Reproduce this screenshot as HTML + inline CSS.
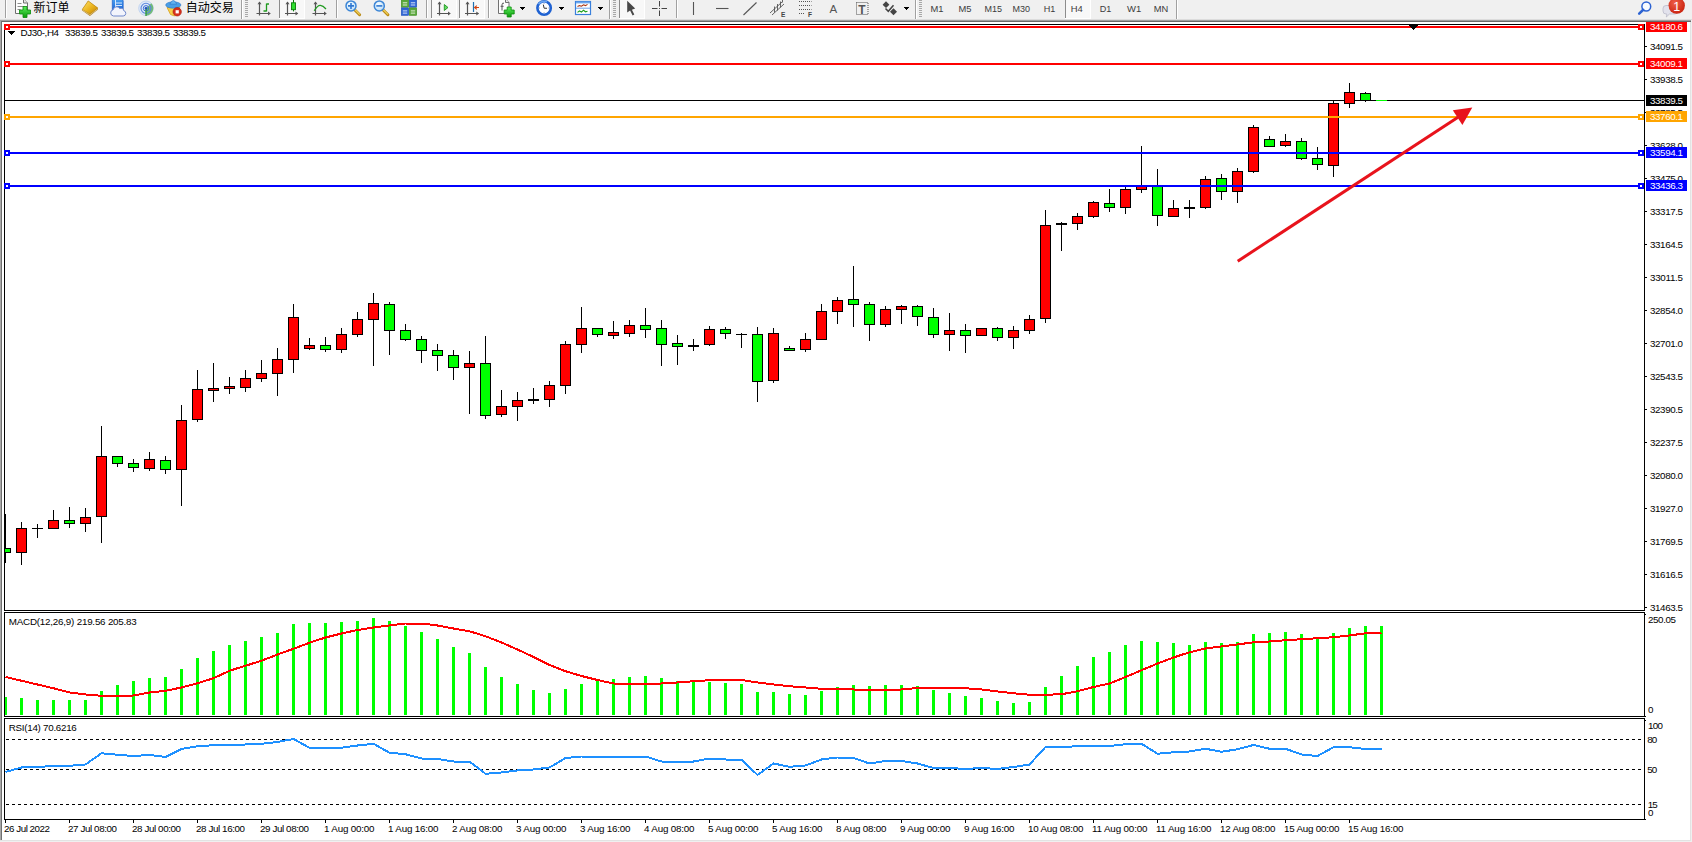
<!DOCTYPE html>
<html><head><meta charset="utf-8"><title>DJ30-,H4</title>
<style>
html,body{margin:0;padding:0;background:#fff;overflow:hidden}
body{width:1692px;height:842px;position:relative}
svg{position:absolute;left:0;top:0;display:block}
text{font-family:"Liberation Sans","Noto Sans CJK SC",sans-serif;font-size:9.8px}
</style></head><body>
<svg width="1692" height="842" viewBox="0 0 1692 842" shape-rendering="crispEdges">
<defs><clipPath id="cm"><rect x="5" y="25" width="1639" height="585"/></clipPath></defs>
<rect x="0" y="0" width="1692" height="842" fill="#fff"/>
<!-- window chrome -->
<rect x="0" y="0" width="1692" height="19" fill="#f0f0f0"/>
<rect x="0" y="19" width="1692" height="1" fill="#dcdcdc"/>
<rect x="0" y="20" width="1691" height="1" fill="#a0a0a0"/>
<rect x="0" y="21" width="1691" height="1" fill="#696969"/>
<rect x="0" y="21" width="1" height="819" fill="#a8a8a8"/>
<rect x="1" y="21" width="1" height="819" fill="#707070"/>
<rect x="1690" y="22" width="1" height="819" fill="#e3e3e3"/>
<rect x="1691" y="20" width="1" height="822" fill="#f0f0f0"/>
<rect x="0" y="840" width="1691" height="1" fill="#e3e3e3"/>
<rect x="0" y="841" width="1692" height="1" fill="#f0f0f0"/>
<rect x="4" y="24" width="1641" height="1" fill="#000"/>
<rect x="4" y="610" width="1641" height="1" fill="#000"/>
<rect x="4" y="24" width="1" height="587" fill="#000"/>
<rect x="1644" y="24" width="1" height="587" fill="#000"/>
<rect x="4" y="612" width="1641" height="1" fill="#000"/>
<rect x="4" y="716" width="1641" height="1" fill="#000"/>
<rect x="4" y="612" width="1" height="105" fill="#000"/>
<rect x="1644" y="612" width="1" height="105" fill="#000"/>
<rect x="4" y="718" width="1641" height="1" fill="#000"/>
<rect x="4" y="819" width="1641" height="1" fill="#000"/>
<rect x="4" y="718" width="1" height="102" fill="#000"/>
<rect x="1644" y="718" width="1" height="102" fill="#000"/>
<g clip-path="url(#cm)">
<rect x="5" y="100" width="1639" height="1" fill="#000"/>
<rect x="5" y="514" width="1" height="49" fill="#000"/>
<rect x="0" y="548" width="11" height="5" fill="#000"/>
<rect x="1" y="549" width="9" height="3" fill="#00ff00"/>
<rect x="21" y="522" width="1" height="43" fill="#000"/>
<rect x="16" y="528" width="11" height="25" fill="#000"/>
<rect x="17" y="529" width="9" height="23" fill="#ff0000"/>
<rect x="37" y="524" width="1" height="14" fill="#000"/>
<rect x="32" y="528" width="11" height="1" fill="#000"/>
<rect x="53" y="510" width="1" height="19" fill="#000"/>
<rect x="48" y="520" width="11" height="9" fill="#000"/>
<rect x="49" y="521" width="9" height="7" fill="#ff0000"/>
<rect x="69" y="507" width="1" height="21" fill="#000"/>
<rect x="64" y="520" width="11" height="4" fill="#000"/>
<rect x="65" y="521" width="9" height="2" fill="#00ff00"/>
<rect x="85" y="508" width="1" height="24" fill="#000"/>
<rect x="80" y="517" width="11" height="7" fill="#000"/>
<rect x="81" y="518" width="9" height="5" fill="#ff0000"/>
<rect x="101" y="426" width="1" height="117" fill="#000"/>
<rect x="96" y="456" width="11" height="61" fill="#000"/>
<rect x="97" y="457" width="9" height="59" fill="#ff0000"/>
<rect x="117" y="456" width="1" height="11" fill="#000"/>
<rect x="112" y="456" width="11" height="8" fill="#000"/>
<rect x="113" y="457" width="9" height="6" fill="#00ff00"/>
<rect x="133" y="459" width="1" height="13" fill="#000"/>
<rect x="128" y="463" width="11" height="5" fill="#000"/>
<rect x="129" y="464" width="9" height="3" fill="#00ff00"/>
<rect x="149" y="452" width="1" height="19" fill="#000"/>
<rect x="144" y="459" width="11" height="10" fill="#000"/>
<rect x="145" y="460" width="9" height="8" fill="#ff0000"/>
<rect x="165" y="456" width="1" height="18" fill="#000"/>
<rect x="160" y="460" width="11" height="10" fill="#000"/>
<rect x="161" y="461" width="9" height="8" fill="#00ff00"/>
<rect x="181" y="405" width="1" height="101" fill="#000"/>
<rect x="176" y="420" width="11" height="50" fill="#000"/>
<rect x="177" y="421" width="9" height="48" fill="#ff0000"/>
<rect x="197" y="370" width="1" height="52" fill="#000"/>
<rect x="192" y="389" width="11" height="31" fill="#000"/>
<rect x="193" y="390" width="9" height="29" fill="#ff0000"/>
<rect x="213" y="363" width="1" height="39" fill="#000"/>
<rect x="208" y="388" width="11" height="3" fill="#000"/>
<rect x="209" y="389" width="9" height="1" fill="#ff0000"/>
<rect x="229" y="377" width="1" height="17" fill="#000"/>
<rect x="224" y="386" width="11" height="3" fill="#000"/>
<rect x="225" y="387" width="9" height="1" fill="#ff0000"/>
<rect x="245" y="370" width="1" height="22" fill="#000"/>
<rect x="240" y="378" width="11" height="10" fill="#000"/>
<rect x="241" y="379" width="9" height="8" fill="#ff0000"/>
<rect x="261" y="360" width="1" height="22" fill="#000"/>
<rect x="256" y="373" width="11" height="6" fill="#000"/>
<rect x="257" y="374" width="9" height="4" fill="#ff0000"/>
<rect x="277" y="348" width="1" height="48" fill="#000"/>
<rect x="272" y="359" width="11" height="15" fill="#000"/>
<rect x="273" y="360" width="9" height="13" fill="#ff0000"/>
<rect x="293" y="304" width="1" height="69" fill="#000"/>
<rect x="288" y="317" width="11" height="43" fill="#000"/>
<rect x="289" y="318" width="9" height="41" fill="#ff0000"/>
<rect x="309" y="338" width="1" height="12" fill="#000"/>
<rect x="304" y="345" width="11" height="4" fill="#000"/>
<rect x="305" y="346" width="9" height="2" fill="#ff0000"/>
<rect x="325" y="337" width="1" height="15" fill="#000"/>
<rect x="320" y="345" width="11" height="5" fill="#000"/>
<rect x="321" y="346" width="9" height="3" fill="#00ff00"/>
<rect x="341" y="328" width="1" height="25" fill="#000"/>
<rect x="336" y="334" width="11" height="16" fill="#000"/>
<rect x="337" y="335" width="9" height="14" fill="#ff0000"/>
<rect x="357" y="312" width="1" height="25" fill="#000"/>
<rect x="352" y="319" width="11" height="16" fill="#000"/>
<rect x="353" y="320" width="9" height="14" fill="#ff0000"/>
<rect x="373" y="293" width="1" height="73" fill="#000"/>
<rect x="368" y="303" width="11" height="17" fill="#000"/>
<rect x="369" y="304" width="9" height="15" fill="#ff0000"/>
<rect x="389" y="302" width="1" height="53" fill="#000"/>
<rect x="384" y="304" width="11" height="27" fill="#000"/>
<rect x="385" y="305" width="9" height="25" fill="#00ff00"/>
<rect x="405" y="324" width="1" height="17" fill="#000"/>
<rect x="400" y="330" width="11" height="10" fill="#000"/>
<rect x="401" y="331" width="9" height="8" fill="#00ff00"/>
<rect x="421" y="336" width="1" height="27" fill="#000"/>
<rect x="416" y="339" width="11" height="12" fill="#000"/>
<rect x="417" y="340" width="9" height="10" fill="#00ff00"/>
<rect x="437" y="344" width="1" height="27" fill="#000"/>
<rect x="432" y="350" width="11" height="6" fill="#000"/>
<rect x="433" y="351" width="9" height="4" fill="#00ff00"/>
<rect x="453" y="350" width="1" height="30" fill="#000"/>
<rect x="448" y="355" width="11" height="13" fill="#000"/>
<rect x="449" y="356" width="9" height="11" fill="#00ff00"/>
<rect x="469" y="351" width="1" height="63" fill="#000"/>
<rect x="464" y="363" width="11" height="5" fill="#000"/>
<rect x="465" y="364" width="9" height="3" fill="#ff0000"/>
<rect x="485" y="336" width="1" height="83" fill="#000"/>
<rect x="480" y="363" width="11" height="53" fill="#000"/>
<rect x="481" y="364" width="9" height="51" fill="#00ff00"/>
<rect x="501" y="390" width="1" height="27" fill="#000"/>
<rect x="496" y="406" width="11" height="9" fill="#000"/>
<rect x="497" y="407" width="9" height="7" fill="#ff0000"/>
<rect x="517" y="392" width="1" height="29" fill="#000"/>
<rect x="512" y="400" width="11" height="7" fill="#000"/>
<rect x="513" y="401" width="9" height="5" fill="#ff0000"/>
<rect x="533" y="388" width="1" height="16" fill="#000"/>
<rect x="528" y="399" width="11" height="2" fill="#000"/>
<rect x="549" y="381" width="1" height="26" fill="#000"/>
<rect x="544" y="385" width="11" height="15" fill="#000"/>
<rect x="545" y="386" width="9" height="13" fill="#ff0000"/>
<rect x="565" y="341" width="1" height="53" fill="#000"/>
<rect x="560" y="344" width="11" height="42" fill="#000"/>
<rect x="561" y="345" width="9" height="40" fill="#ff0000"/>
<rect x="581" y="307" width="1" height="46" fill="#000"/>
<rect x="576" y="328" width="11" height="17" fill="#000"/>
<rect x="577" y="329" width="9" height="15" fill="#ff0000"/>
<rect x="597" y="328" width="1" height="9" fill="#000"/>
<rect x="592" y="328" width="11" height="7" fill="#000"/>
<rect x="593" y="329" width="9" height="5" fill="#00ff00"/>
<rect x="613" y="321" width="1" height="18" fill="#000"/>
<rect x="608" y="332" width="11" height="4" fill="#000"/>
<rect x="609" y="333" width="9" height="2" fill="#ff0000"/>
<rect x="629" y="320" width="1" height="17" fill="#000"/>
<rect x="624" y="325" width="11" height="9" fill="#000"/>
<rect x="625" y="326" width="9" height="7" fill="#ff0000"/>
<rect x="645" y="308" width="1" height="30" fill="#000"/>
<rect x="640" y="325" width="11" height="5" fill="#000"/>
<rect x="641" y="326" width="9" height="3" fill="#00ff00"/>
<rect x="661" y="320" width="1" height="46" fill="#000"/>
<rect x="656" y="328" width="11" height="17" fill="#000"/>
<rect x="657" y="329" width="9" height="15" fill="#00ff00"/>
<rect x="677" y="335" width="1" height="30" fill="#000"/>
<rect x="672" y="343" width="11" height="4" fill="#000"/>
<rect x="673" y="344" width="9" height="2" fill="#00ff00"/>
<rect x="693" y="339" width="1" height="12" fill="#000"/>
<rect x="688" y="345" width="11" height="2" fill="#000"/>
<rect x="709" y="326" width="1" height="20" fill="#000"/>
<rect x="704" y="329" width="11" height="16" fill="#000"/>
<rect x="705" y="330" width="9" height="14" fill="#ff0000"/>
<rect x="725" y="327" width="1" height="12" fill="#000"/>
<rect x="720" y="329" width="11" height="5" fill="#000"/>
<rect x="721" y="330" width="9" height="3" fill="#00ff00"/>
<rect x="741" y="333" width="1" height="15" fill="#000"/>
<rect x="736" y="334" width="11" height="1" fill="#000"/>
<rect x="757" y="327" width="1" height="75" fill="#000"/>
<rect x="752" y="334" width="11" height="48" fill="#000"/>
<rect x="753" y="335" width="9" height="46" fill="#00ff00"/>
<rect x="773" y="328" width="1" height="55" fill="#000"/>
<rect x="768" y="333" width="11" height="48" fill="#000"/>
<rect x="769" y="334" width="9" height="46" fill="#ff0000"/>
<rect x="789" y="346" width="1" height="5" fill="#000"/>
<rect x="784" y="348" width="11" height="3" fill="#000"/>
<rect x="785" y="349" width="9" height="1" fill="#00ff00"/>
<rect x="805" y="333" width="1" height="19" fill="#000"/>
<rect x="800" y="339" width="11" height="11" fill="#000"/>
<rect x="801" y="340" width="9" height="9" fill="#ff0000"/>
<rect x="821" y="304" width="1" height="36" fill="#000"/>
<rect x="816" y="311" width="11" height="29" fill="#000"/>
<rect x="817" y="312" width="9" height="27" fill="#ff0000"/>
<rect x="837" y="297" width="1" height="27" fill="#000"/>
<rect x="832" y="300" width="11" height="12" fill="#000"/>
<rect x="833" y="301" width="9" height="10" fill="#ff0000"/>
<rect x="853" y="266" width="1" height="61" fill="#000"/>
<rect x="848" y="299" width="11" height="6" fill="#000"/>
<rect x="849" y="300" width="9" height="4" fill="#00ff00"/>
<rect x="869" y="302" width="1" height="39" fill="#000"/>
<rect x="864" y="304" width="11" height="21" fill="#000"/>
<rect x="865" y="305" width="9" height="19" fill="#00ff00"/>
<rect x="885" y="306" width="1" height="21" fill="#000"/>
<rect x="880" y="309" width="11" height="16" fill="#000"/>
<rect x="881" y="310" width="9" height="14" fill="#ff0000"/>
<rect x="901" y="305" width="1" height="19" fill="#000"/>
<rect x="896" y="306" width="11" height="4" fill="#000"/>
<rect x="897" y="307" width="9" height="2" fill="#ff0000"/>
<rect x="917" y="305" width="1" height="21" fill="#000"/>
<rect x="912" y="306" width="11" height="11" fill="#000"/>
<rect x="913" y="307" width="9" height="9" fill="#00ff00"/>
<rect x="933" y="308" width="1" height="30" fill="#000"/>
<rect x="928" y="317" width="11" height="18" fill="#000"/>
<rect x="929" y="318" width="9" height="16" fill="#00ff00"/>
<rect x="949" y="313" width="1" height="38" fill="#000"/>
<rect x="944" y="330" width="11" height="5" fill="#000"/>
<rect x="945" y="331" width="9" height="3" fill="#ff0000"/>
<rect x="965" y="324" width="1" height="29" fill="#000"/>
<rect x="960" y="330" width="11" height="6" fill="#000"/>
<rect x="961" y="331" width="9" height="4" fill="#00ff00"/>
<rect x="981" y="328" width="1" height="8" fill="#000"/>
<rect x="976" y="328" width="11" height="8" fill="#000"/>
<rect x="977" y="329" width="9" height="6" fill="#ff0000"/>
<rect x="997" y="327" width="1" height="14" fill="#000"/>
<rect x="992" y="328" width="11" height="10" fill="#000"/>
<rect x="993" y="329" width="9" height="8" fill="#00ff00"/>
<rect x="1013" y="326" width="1" height="23" fill="#000"/>
<rect x="1008" y="330" width="11" height="8" fill="#000"/>
<rect x="1009" y="331" width="9" height="6" fill="#ff0000"/>
<rect x="1029" y="315" width="1" height="19" fill="#000"/>
<rect x="1024" y="319" width="11" height="12" fill="#000"/>
<rect x="1025" y="320" width="9" height="10" fill="#ff0000"/>
<rect x="1045" y="210" width="1" height="113" fill="#000"/>
<rect x="1040" y="225" width="11" height="94" fill="#000"/>
<rect x="1041" y="226" width="9" height="92" fill="#ff0000"/>
<rect x="1061" y="222" width="1" height="29" fill="#000"/>
<rect x="1056" y="223" width="11" height="2" fill="#000"/>
<rect x="1077" y="213" width="1" height="17" fill="#000"/>
<rect x="1072" y="216" width="11" height="8" fill="#000"/>
<rect x="1073" y="217" width="9" height="6" fill="#ff0000"/>
<rect x="1093" y="201" width="1" height="17" fill="#000"/>
<rect x="1088" y="202" width="11" height="15" fill="#000"/>
<rect x="1089" y="203" width="9" height="13" fill="#ff0000"/>
<rect x="1109" y="189" width="1" height="23" fill="#000"/>
<rect x="1104" y="203" width="11" height="5" fill="#000"/>
<rect x="1105" y="204" width="9" height="3" fill="#00ff00"/>
<rect x="1125" y="187" width="1" height="27" fill="#000"/>
<rect x="1120" y="189" width="11" height="19" fill="#000"/>
<rect x="1121" y="190" width="9" height="17" fill="#ff0000"/>
<rect x="1141" y="146" width="1" height="47" fill="#000"/>
<rect x="1136" y="186" width="11" height="4" fill="#000"/>
<rect x="1137" y="187" width="9" height="2" fill="#ff0000"/>
<rect x="1157" y="169" width="1" height="57" fill="#000"/>
<rect x="1152" y="186" width="11" height="30" fill="#000"/>
<rect x="1153" y="187" width="9" height="28" fill="#00ff00"/>
<rect x="1173" y="200" width="1" height="17" fill="#000"/>
<rect x="1168" y="208" width="11" height="9" fill="#000"/>
<rect x="1169" y="209" width="9" height="7" fill="#ff0000"/>
<rect x="1189" y="200" width="1" height="18" fill="#000"/>
<rect x="1184" y="207" width="11" height="2" fill="#000"/>
<rect x="1205" y="176" width="1" height="33" fill="#000"/>
<rect x="1200" y="179" width="11" height="29" fill="#000"/>
<rect x="1201" y="180" width="9" height="27" fill="#ff0000"/>
<rect x="1221" y="174" width="1" height="26" fill="#000"/>
<rect x="1216" y="178" width="11" height="14" fill="#000"/>
<rect x="1217" y="179" width="9" height="12" fill="#00ff00"/>
<rect x="1237" y="168" width="1" height="35" fill="#000"/>
<rect x="1232" y="171" width="11" height="21" fill="#000"/>
<rect x="1233" y="172" width="9" height="19" fill="#ff0000"/>
<rect x="1253" y="125" width="1" height="48" fill="#000"/>
<rect x="1248" y="127" width="11" height="45" fill="#000"/>
<rect x="1249" y="128" width="9" height="43" fill="#ff0000"/>
<rect x="1269" y="136" width="1" height="11" fill="#000"/>
<rect x="1264" y="139" width="11" height="8" fill="#000"/>
<rect x="1265" y="140" width="9" height="6" fill="#00ff00"/>
<rect x="1285" y="134" width="1" height="13" fill="#000"/>
<rect x="1280" y="141" width="11" height="5" fill="#000"/>
<rect x="1281" y="142" width="9" height="3" fill="#ff0000"/>
<rect x="1301" y="138" width="1" height="22" fill="#000"/>
<rect x="1296" y="141" width="11" height="18" fill="#000"/>
<rect x="1297" y="142" width="9" height="16" fill="#00ff00"/>
<rect x="1317" y="147" width="1" height="23" fill="#000"/>
<rect x="1312" y="158" width="11" height="7" fill="#000"/>
<rect x="1313" y="159" width="9" height="5" fill="#00ff00"/>
<rect x="1333" y="101" width="1" height="76" fill="#000"/>
<rect x="1328" y="103" width="11" height="63" fill="#000"/>
<rect x="1329" y="104" width="9" height="61" fill="#ff0000"/>
<rect x="1349" y="83" width="1" height="25" fill="#000"/>
<rect x="1344" y="92" width="11" height="12" fill="#000"/>
<rect x="1345" y="93" width="9" height="10" fill="#ff0000"/>
<rect x="1365" y="92" width="1" height="10" fill="#000"/>
<rect x="1360" y="93" width="11" height="8" fill="#000"/>
<rect x="1361" y="94" width="9" height="6" fill="#00ff00"/>
<rect x="1376" y="100" width="11" height="1" fill="#00ff00"/>
</g>
<rect x="5" y="26" width="1639" height="2" fill="#ff0000"/>
<rect x="4" y="24" width="6" height="6" fill="#ff0000"/>
<rect x="6" y="26" width="2" height="2" fill="#fff"/>
<rect x="1638" y="24" width="6" height="6" fill="#ff0000"/>
<rect x="1640" y="26" width="2" height="2" fill="#fff"/>
<rect x="5" y="63" width="1639" height="2" fill="#ff0000"/>
<rect x="4" y="61" width="6" height="6" fill="#ff0000"/>
<rect x="6" y="63" width="2" height="2" fill="#fff"/>
<rect x="1638" y="61" width="6" height="6" fill="#ff0000"/>
<rect x="1640" y="63" width="2" height="2" fill="#fff"/>
<rect x="5" y="116" width="1639" height="2" fill="#ffa500"/>
<rect x="4" y="114" width="6" height="6" fill="#ffa500"/>
<rect x="6" y="116" width="2" height="2" fill="#fff"/>
<rect x="1638" y="114" width="6" height="6" fill="#ffa500"/>
<rect x="1640" y="116" width="2" height="2" fill="#fff"/>
<rect x="5" y="152" width="1639" height="2" fill="#0000ff"/>
<rect x="4" y="150" width="6" height="6" fill="#0000ff"/>
<rect x="6" y="152" width="2" height="2" fill="#fff"/>
<rect x="1638" y="150" width="6" height="6" fill="#0000ff"/>
<rect x="1640" y="152" width="2" height="2" fill="#fff"/>
<rect x="5" y="185" width="1639" height="2" fill="#0000ff"/>
<rect x="4" y="183" width="6" height="6" fill="#0000ff"/>
<rect x="6" y="185" width="2" height="2" fill="#fff"/>
<rect x="1638" y="183" width="6" height="6" fill="#0000ff"/>
<rect x="1640" y="185" width="2" height="2" fill="#fff"/>
<g shape-rendering="geometricPrecision"><line x1="1237.7" y1="261.2" x2="1458" y2="117.3" stroke="#e8131c" stroke-width="3"/><polygon points="1472.3,107.6 1452.8,110.2 1462.4,125" fill="#e8131c"/></g>
<rect x="1409" y="25" width="9" height="1" fill="#000"/>
<rect x="1410" y="26" width="7" height="1" fill="#000"/>
<rect x="1411" y="27" width="5" height="1" fill="#000"/>
<rect x="1412" y="28" width="3" height="1" fill="#000"/>
<rect x="1413" y="29" width="1" height="1" fill="#000"/>
<rect x="8" y="31" width="7" height="1" fill="#000"/>
<rect x="9" y="32" width="5" height="1" fill="#000"/>
<rect x="10" y="33" width="3" height="1" fill="#000"/>
<rect x="11" y="34" width="1" height="1" fill="#000"/>
<rect x="5" y="697" width="2" height="18" fill="#00ff00"/>
<rect x="20" y="698" width="3" height="17" fill="#00ff00"/>
<rect x="36" y="700" width="3" height="15" fill="#00ff00"/>
<rect x="52" y="700" width="3" height="15" fill="#00ff00"/>
<rect x="68" y="700" width="3" height="15" fill="#00ff00"/>
<rect x="84" y="700" width="3" height="15" fill="#00ff00"/>
<rect x="100" y="691" width="3" height="24" fill="#00ff00"/>
<rect x="116" y="685" width="3" height="30" fill="#00ff00"/>
<rect x="132" y="681" width="3" height="34" fill="#00ff00"/>
<rect x="148" y="678" width="3" height="37" fill="#00ff00"/>
<rect x="164" y="677" width="3" height="38" fill="#00ff00"/>
<rect x="180" y="669" width="3" height="46" fill="#00ff00"/>
<rect x="196" y="658" width="3" height="57" fill="#00ff00"/>
<rect x="212" y="651" width="3" height="64" fill="#00ff00"/>
<rect x="228" y="645" width="3" height="70" fill="#00ff00"/>
<rect x="244" y="641" width="3" height="74" fill="#00ff00"/>
<rect x="260" y="637" width="3" height="78" fill="#00ff00"/>
<rect x="276" y="633" width="3" height="82" fill="#00ff00"/>
<rect x="292" y="624" width="3" height="91" fill="#00ff00"/>
<rect x="308" y="623" width="3" height="92" fill="#00ff00"/>
<rect x="324" y="623" width="3" height="92" fill="#00ff00"/>
<rect x="340" y="622" width="3" height="93" fill="#00ff00"/>
<rect x="356" y="621" width="3" height="94" fill="#00ff00"/>
<rect x="372" y="618" width="3" height="97" fill="#00ff00"/>
<rect x="388" y="621" width="3" height="94" fill="#00ff00"/>
<rect x="404" y="626" width="3" height="89" fill="#00ff00"/>
<rect x="420" y="632" width="3" height="83" fill="#00ff00"/>
<rect x="436" y="639" width="3" height="76" fill="#00ff00"/>
<rect x="452" y="647" width="3" height="68" fill="#00ff00"/>
<rect x="468" y="653" width="3" height="62" fill="#00ff00"/>
<rect x="484" y="667" width="3" height="48" fill="#00ff00"/>
<rect x="500" y="677" width="3" height="38" fill="#00ff00"/>
<rect x="516" y="684" width="3" height="31" fill="#00ff00"/>
<rect x="532" y="690" width="3" height="25" fill="#00ff00"/>
<rect x="548" y="693" width="3" height="22" fill="#00ff00"/>
<rect x="564" y="689" width="3" height="26" fill="#00ff00"/>
<rect x="580" y="684" width="3" height="31" fill="#00ff00"/>
<rect x="596" y="681" width="3" height="34" fill="#00ff00"/>
<rect x="612" y="679" width="3" height="36" fill="#00ff00"/>
<rect x="628" y="677" width="3" height="38" fill="#00ff00"/>
<rect x="644" y="676" width="3" height="39" fill="#00ff00"/>
<rect x="660" y="678" width="3" height="37" fill="#00ff00"/>
<rect x="676" y="681" width="3" height="34" fill="#00ff00"/>
<rect x="692" y="682" width="3" height="33" fill="#00ff00"/>
<rect x="708" y="682" width="3" height="33" fill="#00ff00"/>
<rect x="724" y="683" width="3" height="32" fill="#00ff00"/>
<rect x="740" y="684" width="3" height="31" fill="#00ff00"/>
<rect x="756" y="692" width="3" height="23" fill="#00ff00"/>
<rect x="772" y="692" width="3" height="23" fill="#00ff00"/>
<rect x="788" y="694" width="3" height="21" fill="#00ff00"/>
<rect x="804" y="695" width="3" height="20" fill="#00ff00"/>
<rect x="820" y="691" width="3" height="24" fill="#00ff00"/>
<rect x="836" y="687" width="3" height="28" fill="#00ff00"/>
<rect x="852" y="685" width="3" height="30" fill="#00ff00"/>
<rect x="868" y="686" width="3" height="29" fill="#00ff00"/>
<rect x="884" y="685" width="3" height="30" fill="#00ff00"/>
<rect x="900" y="685" width="3" height="30" fill="#00ff00"/>
<rect x="916" y="686" width="3" height="29" fill="#00ff00"/>
<rect x="932" y="690" width="3" height="25" fill="#00ff00"/>
<rect x="948" y="693" width="3" height="22" fill="#00ff00"/>
<rect x="964" y="696" width="3" height="19" fill="#00ff00"/>
<rect x="980" y="698" width="3" height="17" fill="#00ff00"/>
<rect x="996" y="701" width="3" height="14" fill="#00ff00"/>
<rect x="1012" y="703" width="3" height="12" fill="#00ff00"/>
<rect x="1028" y="702" width="3" height="13" fill="#00ff00"/>
<rect x="1044" y="687" width="3" height="28" fill="#00ff00"/>
<rect x="1060" y="676" width="3" height="39" fill="#00ff00"/>
<rect x="1076" y="666" width="3" height="49" fill="#00ff00"/>
<rect x="1092" y="657" width="3" height="58" fill="#00ff00"/>
<rect x="1108" y="652" width="3" height="63" fill="#00ff00"/>
<rect x="1124" y="645" width="3" height="70" fill="#00ff00"/>
<rect x="1140" y="641" width="3" height="74" fill="#00ff00"/>
<rect x="1156" y="642" width="3" height="73" fill="#00ff00"/>
<rect x="1172" y="643" width="3" height="72" fill="#00ff00"/>
<rect x="1188" y="645" width="3" height="70" fill="#00ff00"/>
<rect x="1204" y="642" width="3" height="73" fill="#00ff00"/>
<rect x="1220" y="643" width="3" height="72" fill="#00ff00"/>
<rect x="1236" y="642" width="3" height="73" fill="#00ff00"/>
<rect x="1252" y="634" width="3" height="81" fill="#00ff00"/>
<rect x="1268" y="633" width="3" height="82" fill="#00ff00"/>
<rect x="1284" y="632" width="3" height="83" fill="#00ff00"/>
<rect x="1300" y="634" width="3" height="81" fill="#00ff00"/>
<rect x="1316" y="638" width="3" height="77" fill="#00ff00"/>
<rect x="1332" y="633" width="3" height="82" fill="#00ff00"/>
<rect x="1348" y="628" width="3" height="87" fill="#00ff00"/>
<rect x="1364" y="626" width="3" height="89" fill="#00ff00"/>
<rect x="1380" y="626" width="3" height="89" fill="#00ff00"/>
<polyline points="5.5,677 21.5,680.75 37.5,684.5 53.5,688.25 69.5,692.5 85.5,694.5 101.5,695.75 117.5,696 133.5,695.5 149.5,692.5 165.5,690.75 181.5,687.5 197.5,683.25 213.5,678.25 229.5,670.75 245.5,665.75 261.5,660.75 277.5,654.5 293.5,648.75 309.5,642.75 325.5,637.5 341.5,633.5 357.5,630 373.5,627.5 389.5,625.5 405.5,623.5 421.5,623.5 437.5,625.5 453.5,628.5 469.5,631.25 485.5,636.25 501.5,642.5 517.5,649.5 533.5,657 549.5,665 565.5,671.25 581.5,676 597.5,680 613.5,683.5 629.5,683.75 645.5,683.75 661.5,683.5 677.5,682.5 693.5,681.25 709.5,680.25 725.5,679.75 741.5,680 757.5,682.5 773.5,684.5 789.5,686.25 805.5,687.5 821.5,688.75 837.5,689 853.5,689.5 869.5,689.75 885.5,689.75 901.5,689.5 917.5,688 933.5,687.75 949.5,687.75 965.5,688.25 981.5,689.5 997.5,691.5 1013.5,693.25 1029.5,694.75 1045.5,694.75 1061.5,694.25 1077.5,691.25 1093.5,687 1109.5,683.5 1125.5,677 1141.5,670.25 1157.5,663.5 1173.5,657.5 1189.5,652.25 1205.5,648.5 1221.5,646.5 1237.5,644.5 1253.5,642.25 1269.5,641.5 1285.5,640.25 1301.5,639.25 1317.5,638.25 1333.5,637.25 1349.5,635.5 1365.5,633.25 1381.5,632.75" fill="none" stroke="#ff0000" stroke-width="2" stroke-linejoin="round"/>
<line x1="6" y1="739.5" x2="1644" y2="739.5" stroke="#000" stroke-width="1" stroke-dasharray="3 3"/>
<line x1="6" y1="769.5" x2="1644" y2="769.5" stroke="#000" stroke-width="1" stroke-dasharray="3 3"/>
<line x1="6" y1="804.5" x2="1644" y2="804.5" stroke="#000" stroke-width="1" stroke-dasharray="3 3"/>
<polyline points="5.5,772 21.5,767.5 37.5,767 53.5,766 69.5,765.75 85.5,764.5 101.5,753.25 117.5,754.75 133.5,756 149.5,755 165.5,757 181.5,749 197.5,746.25 213.5,745.25 229.5,745 245.5,744.5 261.5,743.75 277.5,742 293.5,739 309.5,747.75 325.5,748 341.5,747.75 357.5,745.5 373.5,743.75 389.5,752.75 405.5,754.25 421.5,758.5 437.5,759 453.5,761.5 469.5,761.5 485.5,773.75 501.5,772.5 517.5,770.5 533.5,769.5 549.5,767.5 565.5,758 581.5,756.5 597.5,756.5 613.5,756.5 629.5,756.5 645.5,756.5 661.5,761.5 677.5,761.5 693.5,761.5 709.5,758.5 725.5,759.5 741.5,759.5 757.5,775 773.5,763.5 789.5,766.75 805.5,765.5 821.5,759.5 837.5,757.5 853.5,758 869.5,763.5 885.5,761 901.5,761 917.5,763.5 933.5,768 949.5,768 965.5,769 981.5,768 997.5,769 1013.5,767 1029.5,764.5 1045.5,747 1061.5,747 1077.5,746.25 1093.5,746 1109.5,746 1125.5,744.25 1141.5,743.75 1157.5,753.75 1173.5,752.25 1189.5,751.5 1205.5,748.75 1221.5,751.75 1237.5,749.25 1253.5,745 1269.5,748.75 1285.5,748.75 1301.5,754.5 1317.5,756 1333.5,747.25 1349.5,747.25 1365.5,749 1381.5,749" fill="none" stroke="#1e90ff" stroke-width="2" stroke-linejoin="round"/>
<rect x="1645" y="46" width="2" height="1" fill="#000"/>
<text x="1650" y="49.7" textLength="33" lengthAdjust="spacing" fill="#000">34091.5</text>
<rect x="1645" y="79" width="2" height="1" fill="#000"/>
<text x="1650" y="82.7" textLength="33" lengthAdjust="spacing" fill="#000">33938.5</text>
<rect x="1645" y="112" width="2" height="1" fill="#000"/>
<text x="1650" y="115.7" textLength="33" lengthAdjust="spacing" fill="#000">33785.5</text>
<rect x="1645" y="145" width="2" height="1" fill="#000"/>
<text x="1650" y="148.7" textLength="33" lengthAdjust="spacing" fill="#000">33628.0</text>
<rect x="1645" y="178" width="2" height="1" fill="#000"/>
<text x="1650" y="181.7" textLength="33" lengthAdjust="spacing" fill="#000">33475.0</text>
<rect x="1645" y="211" width="2" height="1" fill="#000"/>
<text x="1650" y="214.7" textLength="33" lengthAdjust="spacing" fill="#000">33317.5</text>
<rect x="1645" y="244" width="2" height="1" fill="#000"/>
<text x="1650" y="247.7" textLength="33" lengthAdjust="spacing" fill="#000">33164.5</text>
<rect x="1645" y="277" width="2" height="1" fill="#000"/>
<text x="1650" y="280.7" textLength="33" lengthAdjust="spacing" fill="#000">33011.5</text>
<rect x="1645" y="310" width="2" height="1" fill="#000"/>
<text x="1650" y="313.7" textLength="33" lengthAdjust="spacing" fill="#000">32854.0</text>
<rect x="1645" y="343" width="2" height="1" fill="#000"/>
<text x="1650" y="346.7" textLength="33" lengthAdjust="spacing" fill="#000">32701.0</text>
<rect x="1645" y="376" width="2" height="1" fill="#000"/>
<text x="1650" y="379.7" textLength="33" lengthAdjust="spacing" fill="#000">32543.5</text>
<rect x="1645" y="409" width="2" height="1" fill="#000"/>
<text x="1650" y="412.7" textLength="33" lengthAdjust="spacing" fill="#000">32390.5</text>
<rect x="1645" y="442" width="2" height="1" fill="#000"/>
<text x="1650" y="445.7" textLength="33" lengthAdjust="spacing" fill="#000">32237.5</text>
<rect x="1645" y="475" width="2" height="1" fill="#000"/>
<text x="1650" y="478.7" textLength="33" lengthAdjust="spacing" fill="#000">32080.0</text>
<rect x="1645" y="508" width="2" height="1" fill="#000"/>
<text x="1650" y="511.7" textLength="33" lengthAdjust="spacing" fill="#000">31927.0</text>
<rect x="1645" y="541" width="2" height="1" fill="#000"/>
<text x="1650" y="544.7" textLength="33" lengthAdjust="spacing" fill="#000">31769.5</text>
<rect x="1645" y="574" width="2" height="1" fill="#000"/>
<text x="1650" y="577.7" textLength="33" lengthAdjust="spacing" fill="#000">31616.5</text>
<rect x="1645" y="607" width="2" height="1" fill="#000"/>
<text x="1650" y="610.7" textLength="33" lengthAdjust="spacing" fill="#000">31463.5</text>
<rect x="1646" y="22" width="41" height="10" fill="#ff0000"/>
<text x="1650" y="29.7" textLength="33" lengthAdjust="spacing" fill="#fff">34180.6</text>
<rect x="1646" y="58" width="41" height="11" fill="#ff0000"/>
<text x="1650" y="66.7" textLength="33" lengthAdjust="spacing" fill="#fff">34009.1</text>
<rect x="1646" y="95" width="41" height="11" fill="#000"/>
<text x="1650" y="103.7" textLength="33" lengthAdjust="spacing" fill="#fff">33839.5</text>
<rect x="1646" y="111" width="41" height="11" fill="#ffa500"/>
<text x="1650" y="119.7" textLength="33" lengthAdjust="spacing" fill="#fff">33760.1</text>
<rect x="1646" y="147" width="41" height="11" fill="#0000ff"/>
<text x="1650" y="155.7" textLength="33" lengthAdjust="spacing" fill="#fff">33594.1</text>
<rect x="1646" y="180" width="41" height="11" fill="#0000ff"/>
<text x="1650" y="188.7" textLength="33" lengthAdjust="spacing" fill="#fff">33436.3</text>
<rect x="1645" y="614" width="1" height="1" fill="#000"/>
<text x="1648" y="622.7" textLength="28" lengthAdjust="spacing" fill="#000">250.05</text>
<rect x="1645" y="716" width="1" height="1" fill="#000"/>
<text x="1648" y="712.7" fill="#000">0</text>
<rect x="1645" y="720" width="1" height="1" fill="#000"/>
<text x="1648" y="728.7" textLength="15" lengthAdjust="spacing" fill="#000">100</text>
<rect x="1645" y="819" width="1" height="1" fill="#000"/>
<text x="1647.3" y="742.7" textLength="10" lengthAdjust="spacing" fill="#000">80</text>
<text x="1647.3" y="772.7" textLength="10" lengthAdjust="spacing" fill="#000">50</text>
<text x="1647.8" y="807.7" textLength="10" lengthAdjust="spacing" fill="#000">15</text>
<text x="1648" y="815.7" fill="#000">0</text>
<text x="20.5" y="35.7" textLength="38.5" lengthAdjust="spacing" fill="#000">DJ30-,H4</text>
<text x="65" y="35.7" textLength="33" lengthAdjust="spacing" fill="#000">33839.5</text>
<text x="101" y="35.7" textLength="33" lengthAdjust="spacing" fill="#000">33839.5</text>
<text x="137" y="35.7" textLength="33" lengthAdjust="spacing" fill="#000">33839.5</text>
<text x="173" y="35.7" textLength="33" lengthAdjust="spacing" fill="#000">33839.5</text>
<text x="8.8" y="624.7" textLength="128" lengthAdjust="spacing" fill="#000">MACD(12,26,9) 219.56 205.83</text>
<text x="8.8" y="730.7" textLength="68" lengthAdjust="spacing" fill="#000">RSI(14) 70.6216</text>
<rect x="5" y="820" width="1" height="3" fill="#000"/>
<text x="4" y="831.7" textLength="46" lengthAdjust="spacing" fill="#000">26 Jul 2022</text>
<rect x="69" y="820" width="1" height="3" fill="#000"/>
<text x="68" y="831.7" textLength="49" lengthAdjust="spacing" fill="#000">27 Jul 08:00</text>
<rect x="133" y="820" width="1" height="3" fill="#000"/>
<text x="132" y="831.7" textLength="49" lengthAdjust="spacing" fill="#000">28 Jul 00:00</text>
<rect x="197" y="820" width="1" height="3" fill="#000"/>
<text x="196" y="831.7" textLength="49" lengthAdjust="spacing" fill="#000">28 Jul 16:00</text>
<rect x="261" y="820" width="1" height="3" fill="#000"/>
<text x="260" y="831.7" textLength="49" lengthAdjust="spacing" fill="#000">29 Jul 08:00</text>
<rect x="325" y="820" width="1" height="3" fill="#000"/>
<text x="324" y="831.7" textLength="50.5" lengthAdjust="spacing" fill="#000">1 Aug 00:00</text>
<rect x="389" y="820" width="1" height="3" fill="#000"/>
<text x="388" y="831.7" textLength="50.5" lengthAdjust="spacing" fill="#000">1 Aug 16:00</text>
<rect x="453" y="820" width="1" height="3" fill="#000"/>
<text x="452" y="831.7" textLength="50.5" lengthAdjust="spacing" fill="#000">2 Aug 08:00</text>
<rect x="517" y="820" width="1" height="3" fill="#000"/>
<text x="516" y="831.7" textLength="50.5" lengthAdjust="spacing" fill="#000">3 Aug 00:00</text>
<rect x="581" y="820" width="1" height="3" fill="#000"/>
<text x="580" y="831.7" textLength="50.5" lengthAdjust="spacing" fill="#000">3 Aug 16:00</text>
<rect x="645" y="820" width="1" height="3" fill="#000"/>
<text x="644" y="831.7" textLength="50.5" lengthAdjust="spacing" fill="#000">4 Aug 08:00</text>
<rect x="709" y="820" width="1" height="3" fill="#000"/>
<text x="708" y="831.7" textLength="50.5" lengthAdjust="spacing" fill="#000">5 Aug 00:00</text>
<rect x="773" y="820" width="1" height="3" fill="#000"/>
<text x="772" y="831.7" textLength="50.5" lengthAdjust="spacing" fill="#000">5 Aug 16:00</text>
<rect x="837" y="820" width="1" height="3" fill="#000"/>
<text x="836" y="831.7" textLength="50.5" lengthAdjust="spacing" fill="#000">8 Aug 08:00</text>
<rect x="901" y="820" width="1" height="3" fill="#000"/>
<text x="900" y="831.7" textLength="50.5" lengthAdjust="spacing" fill="#000">9 Aug 00:00</text>
<rect x="965" y="820" width="1" height="3" fill="#000"/>
<text x="964" y="831.7" textLength="50.5" lengthAdjust="spacing" fill="#000">9 Aug 16:00</text>
<rect x="1029" y="820" width="1" height="3" fill="#000"/>
<text x="1028" y="831.7" textLength="55.5" lengthAdjust="spacing" fill="#000">10 Aug 08:00</text>
<rect x="1093" y="820" width="1" height="3" fill="#000"/>
<text x="1092" y="831.7" textLength="55.5" lengthAdjust="spacing" fill="#000">11 Aug 00:00</text>
<rect x="1157" y="820" width="1" height="3" fill="#000"/>
<text x="1156" y="831.7" textLength="55.5" lengthAdjust="spacing" fill="#000">11 Aug 16:00</text>
<rect x="1221" y="820" width="1" height="3" fill="#000"/>
<text x="1220" y="831.7" textLength="55.5" lengthAdjust="spacing" fill="#000">12 Aug 08:00</text>
<rect x="1285" y="820" width="1" height="3" fill="#000"/>
<text x="1284" y="831.7" textLength="55.5" lengthAdjust="spacing" fill="#000">15 Aug 00:00</text>
<rect x="1349" y="820" width="1" height="3" fill="#000"/>
<text x="1348" y="831.7" textLength="55.5" lengthAdjust="spacing" fill="#000">15 Aug 16:00</text>
<g id="toolbar">
<defs><linearGradient id="gGold" x1="0" y1="0" x2="1" y2="1"><stop offset="0" stop-color="#ffe36a"/><stop offset=".55" stop-color="#e9b21c"/><stop offset="1" stop-color="#b97a08"/></linearGradient><linearGradient id="gPlus" x1="0" y1="0" x2="0" y2="1"><stop offset="0" stop-color="#5df05d"/><stop offset="1" stop-color="#0a9a0a"/></linearGradient><linearGradient id="gBlue" x1="0" y1="0" x2="0" y2="1"><stop offset="0" stop-color="#4aa2f2"/><stop offset="1" stop-color="#1a62d4"/></linearGradient><radialGradient id="gBadge" cx=".4" cy=".35" r=".7"><stop offset="0" stop-color="#f0604a"/><stop offset="1" stop-color="#c8200c"/></radialGradient><radialGradient id="gLens" cx=".4" cy=".35" r=".7"><stop offset="0" stop-color="#f4fbff"/><stop offset="1" stop-color="#b9dcf7"/></radialGradient><clipPath id="tbclip"><rect x="0" y="0" width="1692" height="19"/></clipPath></defs>
<rect x="5" y="0" width="1" height="18" fill="#a0a0a0"/>
<rect x="6" y="0" width="1" height="18" fill="#ffffff"/>
<rect x="241" y="0" width="1" height="19" fill="#a0a0a0"/>
<rect x="242" y="0" width="1" height="19" fill="#ffffff"/>
<rect x="245" y="0" width="3" height="1" fill="#a8a8a8"/>
<rect x="245" y="2" width="3" height="1" fill="#a8a8a8"/>
<rect x="245" y="4" width="3" height="1" fill="#a8a8a8"/>
<rect x="245" y="6" width="3" height="1" fill="#a8a8a8"/>
<rect x="245" y="8" width="3" height="1" fill="#a8a8a8"/>
<rect x="245" y="10" width="3" height="1" fill="#a8a8a8"/>
<rect x="245" y="12" width="3" height="1" fill="#a8a8a8"/>
<rect x="245" y="14" width="3" height="1" fill="#a8a8a8"/>
<rect x="245" y="16" width="3" height="1" fill="#a8a8a8"/>
<rect x="279" y="0" width="1" height="18" fill="#8c8c8c"/>
<rect x="280" y="0" width="24" height="18" fill="#f8f8f8"/>
<rect x="304" y="0" width="1" height="19" fill="#ffffff"/>
<rect x="279" y="18" width="25" height="1" fill="#ffffff"/>
<rect x="336" y="0" width="1" height="18" fill="#a0a0a0"/>
<rect x="337" y="0" width="1" height="18" fill="#ffffff"/>
<rect x="426" y="0" width="1" height="18" fill="#a0a0a0"/>
<rect x="427" y="0" width="1" height="18" fill="#ffffff"/>
<rect x="431" y="0" width="1" height="18" fill="#8c8c8c"/>
<rect x="432" y="0" width="24" height="18" fill="#f8f8f8"/>
<rect x="456" y="0" width="1" height="19" fill="#ffffff"/>
<rect x="431" y="18" width="25" height="1" fill="#ffffff"/>
<rect x="459" y="0" width="1" height="18" fill="#8c8c8c"/>
<rect x="460" y="0" width="24" height="18" fill="#f8f8f8"/>
<rect x="484" y="0" width="1" height="19" fill="#ffffff"/>
<rect x="459" y="18" width="25" height="1" fill="#ffffff"/>
<rect x="488" y="0" width="1" height="18" fill="#a0a0a0"/>
<rect x="489" y="0" width="1" height="18" fill="#ffffff"/>
<rect x="609" y="0" width="1" height="19" fill="#a0a0a0"/>
<rect x="610" y="0" width="1" height="19" fill="#ffffff"/>
<rect x="613" y="0" width="3" height="1" fill="#a8a8a8"/>
<rect x="613" y="2" width="3" height="1" fill="#a8a8a8"/>
<rect x="613" y="4" width="3" height="1" fill="#a8a8a8"/>
<rect x="613" y="6" width="3" height="1" fill="#a8a8a8"/>
<rect x="613" y="8" width="3" height="1" fill="#a8a8a8"/>
<rect x="613" y="10" width="3" height="1" fill="#a8a8a8"/>
<rect x="613" y="12" width="3" height="1" fill="#a8a8a8"/>
<rect x="613" y="14" width="3" height="1" fill="#a8a8a8"/>
<rect x="613" y="16" width="3" height="1" fill="#a8a8a8"/>
<rect x="619" y="0" width="1" height="18" fill="#8c8c8c"/>
<rect x="620" y="0" width="24" height="18" fill="#f8f8f8"/>
<rect x="644" y="0" width="1" height="19" fill="#ffffff"/>
<rect x="619" y="18" width="25" height="1" fill="#ffffff"/>
<rect x="676" y="0" width="1" height="18" fill="#a0a0a0"/>
<rect x="677" y="0" width="1" height="18" fill="#ffffff"/>
<rect x="915" y="0" width="1" height="19" fill="#a0a0a0"/>
<rect x="916" y="0" width="1" height="19" fill="#ffffff"/>
<rect x="919" y="0" width="3" height="1" fill="#a8a8a8"/>
<rect x="919" y="2" width="3" height="1" fill="#a8a8a8"/>
<rect x="919" y="4" width="3" height="1" fill="#a8a8a8"/>
<rect x="919" y="6" width="3" height="1" fill="#a8a8a8"/>
<rect x="919" y="8" width="3" height="1" fill="#a8a8a8"/>
<rect x="919" y="10" width="3" height="1" fill="#a8a8a8"/>
<rect x="919" y="12" width="3" height="1" fill="#a8a8a8"/>
<rect x="919" y="14" width="3" height="1" fill="#a8a8a8"/>
<rect x="919" y="16" width="3" height="1" fill="#a8a8a8"/>
<rect x="1065" y="0" width="1" height="18" fill="#8c8c8c"/>
<rect x="1066" y="0" width="24" height="18" fill="#f8f8f8"/>
<rect x="1090" y="0" width="1" height="19" fill="#ffffff"/>
<rect x="1065" y="18" width="25" height="1" fill="#ffffff"/>
<rect x="1176" y="0" width="1" height="19" fill="#a0a0a0"/>
<rect x="1177" y="0" width="1" height="19" fill="#ffffff"/>
<rect x="520" y="7" width="5" height="1" fill="#000"/>
<rect x="521" y="8" width="3" height="1" fill="#000"/>
<rect x="522" y="9" width="1" height="1" fill="#000"/>
<rect x="559" y="7" width="5" height="1" fill="#000"/>
<rect x="560" y="8" width="3" height="1" fill="#000"/>
<rect x="561" y="9" width="1" height="1" fill="#000"/>
<rect x="598" y="7" width="5" height="1" fill="#000"/>
<rect x="599" y="8" width="3" height="1" fill="#000"/>
<rect x="600" y="9" width="1" height="1" fill="#000"/>
<rect x="904" y="7" width="5" height="1" fill="#000"/>
<rect x="905" y="8" width="3" height="1" fill="#000"/>
<rect x="906" y="9" width="1" height="1" fill="#000"/>
<g shape-rendering="geometricPrecision" clip-path="url(#tbclip)">
<path d="M15.5,-1 h8 l4,4 v10.5 h-12 z" fill="#fdfdfd" stroke="#707070" stroke-width="1"/><path d="M23.5,-1 v4 h4" fill="#e8e8e8" stroke="#707070" stroke-width="1"/><path d="M17.5,3.5h4 M17.5,6.5h7 M17.5,9.5h3" stroke="#8c8c8c" stroke-width="1"/>
<path d="M23.0,6.5 h4 v3.5 h3.5 v4 h-3.5 v3.5 h-4 v-3.5 h-3.5 v-4 h3.5 z" fill="url(#gPlus)" stroke="#0b8a0b" stroke-width=".8"/>
<path d="M82.1,9.6 L88.2,0.8 L97.9,8 L97.9,9.6 L89.9,15.9 L82.1,10.6 z" fill="#a87412"/><path d="M82.3,9.4 L88.2,0.9 L97.8,8 L89.9,14.2 z" fill="url(#gGold)" stroke="#c08a14" stroke-width=".5"/><path d="M82.5,10.1 L89.9,14.9 L97.6,8.9" fill="none" stroke="#f6e6a8" stroke-width=".7" opacity=".9"/>
<path d="M112.3,-1 h8.4 l2.5,1.5 v10 h-10.9 z" fill="url(#gBlue)" stroke="#1f5fc8" stroke-width=".7"/><path d="M115.5,0v9 M116,3h6 M116,5.5h6" stroke="#e6f2ff" stroke-width=".9"/><path d="M113.5,16 a3.2,3.2 0 0 1 -.3,-6.3 a3.6,3.6 0 0 1 6.6,-1.2 a2.8,2.8 0 0 1 4,2.2 a2.7,2.7 0 0 1 -.6,5.3 z" fill="#f2f4fc" stroke="#6f88cc" stroke-width="1"/>
<circle cx="146" cy="8.3" r="7.3" fill="#dfe9f8" stroke="#b8cdee" stroke-width=".8"/><path d="M146,8.3 L146,15.6 A7.3,7.3 0 0 0 151.2,3.2 z" fill="#4fae4a" opacity=".75"/><circle cx="146" cy="8.3" r="5" fill="none" stroke="#5b86dc" stroke-width="1.1"/><circle cx="146" cy="8.3" r="2.7" fill="none" stroke="#3d6fd6" stroke-width="1"/><path d="M146,8.3 V16" stroke="#2f9a2f" stroke-width="1.3"/><circle cx="146" cy="8.3" r="1.3" fill="#1f4fc4"/>
<path d="M167,7.5 h13 l-5.5,8.5 l-4,-1.5 z" fill="#f7cf4a" stroke="#d39a12" stroke-width=".7"/><ellipse cx="173.3" cy="5" rx="7.6" ry="3.2" fill="#4a9fe6" stroke="#2a74c8" stroke-width=".6"/><path d="M169.8,4.2 q3.5,-7.5 7,0 z" fill="#63b3f0" stroke="#2a74c8" stroke-width=".6"/><circle cx="177.2" cy="11.8" r="4.2" fill="#d8301c" stroke="#a81808" stroke-width=".6"/><rect x="175.6" y="10.2" width="3.2" height="3.2" fill="#fff"/>
<path d="M259.5,2 V15.5 M256.5,13.5 H270" stroke="#555" stroke-width="1.2" fill="none"/><path d="M257.5,4.2 L259.5,1.5 L261.5,4.2 z M268,11.5 L270.8,13.5 L268,15.5 z" fill="#555"/>
<path d="M266.5,3.5 V11.5 M263.5,11 H266.5 M266.5,4 H269" stroke="#1f9a1f" stroke-width="1.3" fill="none"/>
<path d="M287.5,2 V15.5 M285,13.5 H297.5" stroke="#555" stroke-width="1.2" fill="none"/><path d="M285.5,4.2 L287.5,1.5 L289.5,4.2 z M295.5,11.5 L298.3,13.5 L295.5,15.5 z" fill="#555"/>
<path d="M293.5,0 V11.4" stroke="#0c7a0c" stroke-width="1"/><rect x="291.5" y="2.8" width="4" height="6.9" fill="#2fe02f" stroke="#0c7a0c" stroke-width=".9"/>
<path d="M315.5,2 V15.5 M312.5,13.5 H326" stroke="#555" stroke-width="1.2" fill="none"/><path d="M313.5,4.2 L315.5,1.5 L317.5,4.2 z M324,11.5 L326.8,13.5 L324,15.5 z" fill="#555"/>
<path d="M314.2,10.8 Q317.5,5.2 320.3,5.3 T326,9" stroke="#1f9a1f" stroke-width="1.2" fill="none"/>
<path d="M354.6,9.7 L359.6,14.700000000000001" stroke="#b98a14" stroke-width="3" stroke-linecap="round"/><path d="M354.8,9.5 L359.4,14.1" stroke="#f2d25a" stroke-width="1.2" stroke-linecap="round"/><circle cx="351" cy="5.9" r="5" fill="url(#gLens)" stroke="#3d86d6" stroke-width="1.5"/>
<path d="M348,5.9 H354 M351,2.9000000000000004 V8.9" stroke="#2f78d2" stroke-width="1.6"/>
<path d="M382.90000000000003,9.7 L387.90000000000003,14.700000000000001" stroke="#b98a14" stroke-width="3" stroke-linecap="round"/><path d="M383.1,9.5 L387.7,14.1" stroke="#f2d25a" stroke-width="1.2" stroke-linecap="round"/><circle cx="379.3" cy="5.9" r="5" fill="url(#gLens)" stroke="#3d86d6" stroke-width="1.5"/>
<path d="M376.3,5.9 H382.3" stroke="#2f78d2" stroke-width="1.6"/>
<rect x="401.3" y="-0.2" width="7.4" height="7.4" fill="#5aa83a" stroke="#3b8a22" stroke-width=".6"/><path d="M402.8,2.8 h4.4 M402.8,5.0 h4.4" stroke="#fff" stroke-width=".9" opacity=".9"/>
<rect x="409.3" y="-0.2" width="7.4" height="7.4" fill="#2f66d6" stroke="#1f4eb8" stroke-width=".6"/><path d="M410.8,2.8 h4.4 M410.8,5.0 h4.4" stroke="#fff" stroke-width=".9" opacity=".9"/>
<rect x="401.3" y="7.9" width="7.4" height="7.4" fill="#2f66d6" stroke="#1f4eb8" stroke-width=".6"/><path d="M402.8,10.9 h4.4 M402.8,13.100000000000001 h4.4" stroke="#fff" stroke-width=".9" opacity=".9"/>
<rect x="409.3" y="7.9" width="7.4" height="7.4" fill="#5aa83a" stroke="#3b8a22" stroke-width=".6"/><path d="M410.8,10.9 h4.4 M410.8,13.100000000000001 h4.4" stroke="#fff" stroke-width=".9" opacity=".9"/>
<path d="M439.5,2 V15.5 M437,13.5 H450" stroke="#555" stroke-width="1.2" fill="none"/><path d="M437.5,4.2 L439.5,1.5 L441.5,4.2 z M448,11.5 L450.8,13.5 L448,15.5 z" fill="#555"/>
<path d="M444.3,4.5 L448,7.5 L444.3,10.5 z" fill="#62de62" stroke="#128a12" stroke-width=".8"/>
<path d="M467.5,2 V15.5 M465,13.5 H478.3" stroke="#555" stroke-width="1.2" fill="none"/><path d="M465.5,4.2 L467.5,1.5 L469.5,4.2 z M476.3,11.5 L479.1,13.5 L476.3,15.5 z" fill="#555"/>
<path d="M473.5,2 V12" stroke="#1f6fb0" stroke-width="1.2"/><path d="M479,7.5 H474.6 M476.8,5.6 L474.6,7.5 L476.8,9.4" stroke="#d2420e" stroke-width="1.1" fill="none"/>
<path d="M498.5,-1 h7 l3.5,3.5 v11 h-10.5 z" fill="#fdfdfd" stroke="#707070" stroke-width="1"/><path d="M505.5,-1 v3.5 h3.5" fill="#e8e8e8" stroke="#707070" stroke-width="1"/><path d="M504,3.2 q-2,-.6 -2,1.6 V10.5 M500.6,6.3 h3" stroke="#555" stroke-width="1" fill="none"/>
<path d="M507.2,7 h4 v3.0 h3.0 v4 h-3.0 v3.0 h-4 v-3.0 h-3.0 v-4 h3.0 z" fill="url(#gPlus)" stroke="#0b8a0b" stroke-width=".8"/>
<circle cx="544.1" cy="8" r="6.7" fill="#fdfeff" stroke="#1f62d2" stroke-width="2.6"/><path d="M538.6,4.2 A6.7,6.7 0 0 1 547,1.9" stroke="#6aa6f2" stroke-width="1.6" fill="none"/><path d="M543.3,4.6 L544.1,8.2 L547,8.3" stroke="#333" stroke-width="1" fill="none"/><path d="M544.1,3 v.9 M544.1,12.2 v.9 M539.1,8 h.9 M548.3,8 h.9" stroke="#7a8aa8" stroke-width=".8"/>
<rect x="575.5" y="1.5" width="15" height="13" fill="#fff" stroke="#3a80dc" stroke-width="1.2"/><rect x="576" y="1.6" width="14" height="1.8" fill="#6aa6ee"/><path d="M576,8.2 H590" stroke="#5a96e6" stroke-width=".9"/><path d="M577.5,6.6 l2,-1 l2,.6 l2,-1.4 l2,.8 l2,-1.2" stroke="#a8300c" stroke-width="1.1" fill="none"/><path d="M577.5,12.4 l2,-1.4 l2,1 l2,-1.8 l2,1.6 l2,-.6" stroke="#1fa01f" stroke-width="1.1" fill="none"/>
<path d="M627.2,0.8 V12.6 L630.1,10.4 L632.6,15.5 L634.3,14.6 L631.9,9.7 L635.2,8.4 z" fill="#484848"/>
<path d="M659.5,1 V6.5 M659.5,10.5 V16 M652,8.5 H657.5 M661.5,8.5 H667 M659,8.5 H660" stroke="#444" stroke-width="1"/>
<path d="M693.5,2 V15" stroke="#555" stroke-width="1.1"/><path d="M716,8.5 H728.5" stroke="#555" stroke-width="1.1"/><path d="M743.5,15 L756.5,2.5" stroke="#555" stroke-width="1.1"/>
<path d="M770,13 L782,2 M772,15 L784,4 M774.5,6.5 v6 M777.5,4 v6.5 M780.5,1.5 v6" stroke="#555" stroke-width=".9" fill="none"/><path d="M782.5,-0.5 v3" stroke="#555" stroke-width=".9"/>
<path d="M799,1.5 H811.5" stroke="#555" stroke-width="1" stroke-dasharray="1 1"/>
<path d="M799,5.5 H811.5" stroke="#555" stroke-width="1" stroke-dasharray="1 1"/>
<path d="M799,9.5 H811.5" stroke="#555" stroke-width="1" stroke-dasharray="1 1"/>
<path d="M799,13.5 H805" stroke="#555" stroke-width="1" stroke-dasharray="1 1"/>
<rect x="856.5" y="2.5" width="11.5" height="12" fill="none" stroke="#555" stroke-width="1" stroke-dasharray="1 1"/>
<path d="M886,1.8 L889.4,5.2 L886,8.6 L882.6,5.2 z" fill="#444" transform="translate(0,-.5)"/><path d="M893.5,8.3 L897,11.8 L893.5,15.3 L890,11.8 z" fill="#444"/><path d="M885.5,8.5 L888.3,11.3 L893.5,5.2" stroke="#444" stroke-width="1.5" fill="none"/>
<circle cx="1646.3" cy="6.5" r="4.4" fill="#f7fbff" stroke="#2b62d2" stroke-width="1.5"/><path d="M1643.2,9.8 L1639.2,13.6" stroke="#2b62d2" stroke-width="2.6" stroke-linecap="round"/>
<path d="M1666,5.5 h9 a3,3 0 0 1 3,3 v2.5 a3,3 0 0 1 -3,3 h-5.5 l-3.2,3 l.6,-3 h-.9 a3,3 0 0 1 -3,-3 v-2.5 a3,3 0 0 1 3,-3 z" fill="#e2e2ec" stroke="#b4b4c4" stroke-width=".7"/><circle cx="1676.7" cy="5.6" r="8.2" fill="url(#gBadge)"/>
</g>
<g shape-rendering="geometricPrecision">
<text x="33.6" y="11.5" style="font-size:12px" fill="#000">新订单</text>
<text x="185.7" y="11.5" style="font-size:12px" fill="#000">自动交易</text>
<text x="781" y="16.8" style="font-size:6.5px;font-weight:bold" fill="#444">E</text>
<text x="808" y="16.8" style="font-size:6.5px;font-weight:bold" fill="#444">F</text>
<text x="829.5" y="13" style="font-size:11.5px" fill="#555">A</text>
<text x="858.3" y="13.5" style="font-size:12px;font-weight:bold" fill="#555">T</text>
<text x="930.5" y="12" textLength="13" lengthAdjust="spacingAndGlyphs" fill="#3c3c3c">M1</text>
<text x="958.5" y="12" textLength="13" lengthAdjust="spacingAndGlyphs" fill="#3c3c3c">M5</text>
<text x="984.5" y="12" textLength="17.5" lengthAdjust="spacingAndGlyphs" fill="#3c3c3c">M15</text>
<text x="1012.5" y="12" textLength="17.5" lengthAdjust="spacingAndGlyphs" fill="#3c3c3c">M30</text>
<text x="1043.7" y="12" textLength="11.6" lengthAdjust="spacingAndGlyphs" fill="#3c3c3c">H1</text>
<text x="1070.7" y="12" textLength="12" lengthAdjust="spacingAndGlyphs" fill="#3c3c3c">H4</text>
<text x="1099.7" y="12" textLength="11.6" lengthAdjust="spacingAndGlyphs" fill="#3c3c3c">D1</text>
<text x="1127" y="12" textLength="14.2" lengthAdjust="spacingAndGlyphs" fill="#3c3c3c">W1</text>
<text x="1153.7" y="12" textLength="14.5" lengthAdjust="spacingAndGlyphs" fill="#3c3c3c">MN</text>
<text x="1673.2" y="10.5" style="font-size:12.5px" fill="#fff">1</text>
</g>
</g>
</svg>
</body></html>
